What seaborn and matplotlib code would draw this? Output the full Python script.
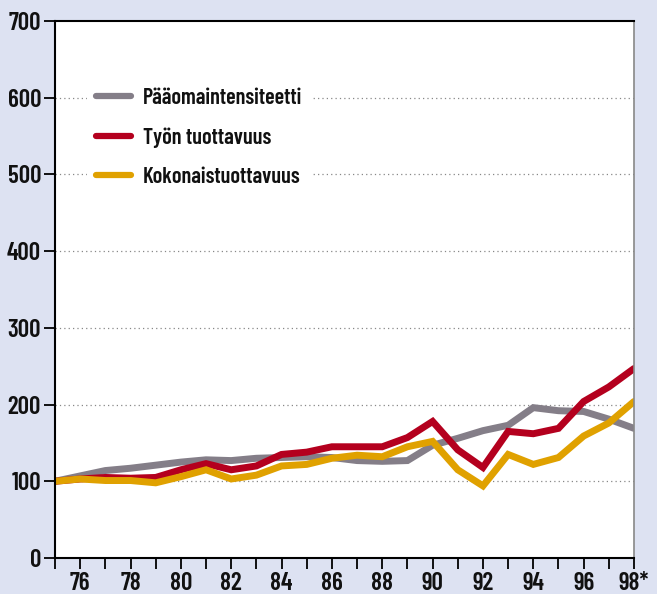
import matplotlib
matplotlib.use("Agg")
import matplotlib.pyplot as plt
import seaborn as sns
import pandas as pd
from matplotlib.lines import Line2D

years = list(range(1975, 1999))
paaoma = [100, 107, 114, 117, 121, 125, 128, 127, 130, 131, 132, 131, 127, 126, 127, 147, 156, 166, 173, 196, 192, 191, 181, 169]
tyon = [100, 103, 105, 104, 105, 115, 123, 115, 120, 135, 138, 145, 145, 145, 157, 178, 141, 118, 165, 162, 169, 204, 223, 247]
kokon = [100, 103, 101, 101, 98, 106, 115, 103, 108, 120, 122, 130, 134, 132, 145, 152, 115, 94, 135, 122, 131, 159, 176, 204]
series_names = ["Pääomaintensiteetti", "Työn tuottavuus", "Kokonaistuottavuus"]
colors = ["#847e88", "#b4001e", "#e0a100"]
xtick_labels = ["76", "78", "80", "82", "84", "86", "88", "90", "92", "94", "96", "98*"]

df = pd.DataFrame({
    "year": years * 3,
    "value": paaoma + tyon + kokon,
    "series": [series_names[0]] * len(years) + [series_names[1]] * len(years) + [series_names[2]] * len(years),
})

sns.set_theme(style="white")
plt.rcParams["font.family"] = ["Barlow Condensed", "DejaVu Sans"]

fig = plt.figure(figsize=(6.57, 5.94), dpi=100)
fig.patch.set_facecolor("#dde2f2")
ax = fig.add_axes([55 / 657, 1 - 558 / 594, 579 / 657, 537 / 594])
ax.set_facecolor("white")

sns.lineplot(data=df, x="year", y="value", hue="series", palette=colors,
             linewidth=5, ax=ax, legend=False, solid_joinstyle="miter")

ax.set_xlim(1975, 1998)
ax.set_ylim(0, 700)
ax.set_yticks(range(0, 701, 100))
ax.set_xticks(years)
ax.set_xticklabels([xtick_labels[(y - 1976) // 2] if (y - 1976) % 2 == 0 else "" for y in years])
for y in range(100, 700, 100):
    ax.axhline(y, color="#888888", linestyle=(0, (1, 2.5)), linewidth=0.9, zorder=0)

ax.tick_params(axis="both", direction="out", length=8, width=1.3, color="black",
               labelsize=18, pad=2, left=True, bottom=True, labelcolor="#111111")
for lab in ax.get_xticklabels() + ax.get_yticklabels():
    lab.set_fontweight(600)
ax.set_xlabel("")
ax.set_ylabel("")
for s in ["left", "bottom", "top"]:
    ax.spines[s].set_color("black")
    ax.spines[s].set_linewidth(1.5)
ax.spines["right"].set_color("#888888")
ax.spines["right"].set_linewidth(1.2)

handles = [Line2D([0], [0], color=c, linewidth=4.5) for c in colors]
leg = ax.legend(handles, series_names, loc="upper left", bbox_to_anchor=(0.036, 0.912),
                frameon=True, fancybox=False, edgecolor="white", facecolor="white", framealpha=1,
                handlelength=1.6, handletextpad=0.5, labelspacing=0.85, fontsize=16)
leg.get_frame().set_linewidth(0)
for t in leg.get_texts():
    t.set_fontweight(600)
    t.set_color("#111111")

fig.savefig("out.png", dpi=100, facecolor=fig.get_facecolor())
